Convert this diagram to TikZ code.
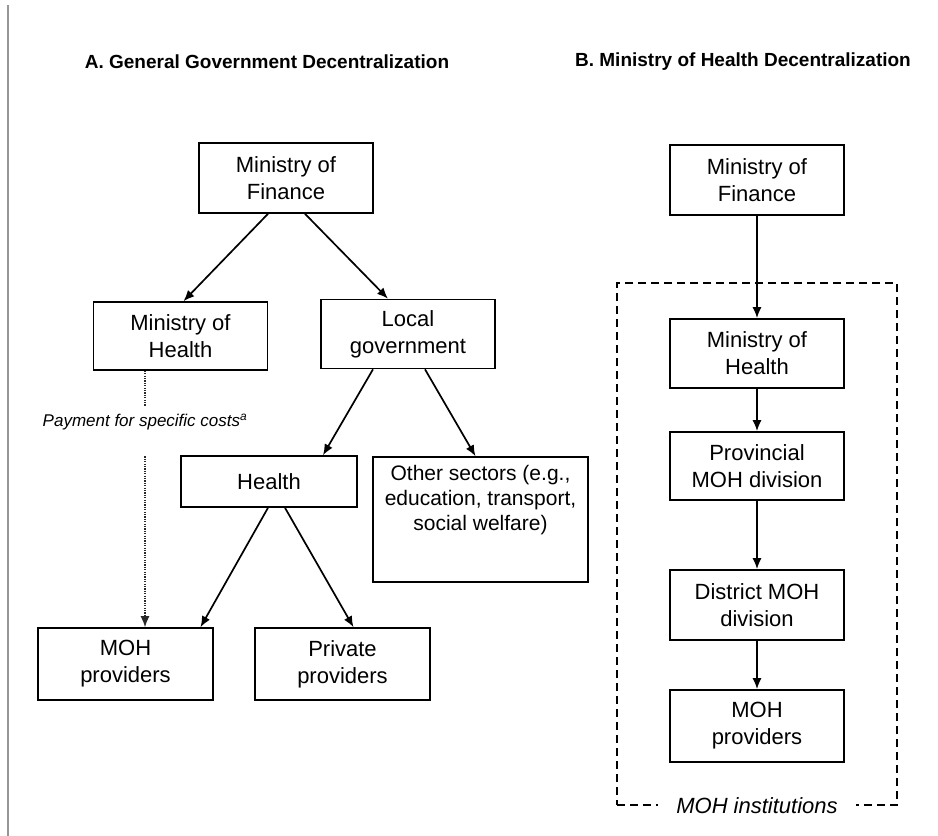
\documentclass[tikz,border=0pt]{standalone}
\usepackage{fontspec}
\setmainfont{Liberation Sans}
\definecolor{rule}{RGB}{150,150,150}
\definecolor{ink}{RGB}{40,40,40}
\usepackage{tikz}
\usetikzlibrary{arrows.meta,positioning}

\begin{document}
\begin{tikzpicture}[x=1pt,y=-1pt,
    box/.style={draw,line width=1.6pt,align=center,minimum width=174,font=\fontsize{22}{27}\selectfont},
    arr/.style={-{Latex[length=11pt,width=9pt]},line width=1.7pt},
    dotline/.style={ink,line width=1.4pt,dash pattern=on 1.2pt off 1.2pt},
    hdr/.style={font=\bfseries\fontsize{19}{22}\selectfont}]
  \useasboundingbox (0,0) rectangle (938,836);
  \draw[rule,line width=2.5pt] (8,5) -- (8,836);
  \node[hdr] (hdrA) at (267,62) {A. General Government Decentralization};
  \node[hdr] (hdrB) at (743,62) {B. Ministry of Health Decentralization};
  % general government
  \node[box,minimum height=70] (mofA) at (286,178) {Ministry of\\Finance};
  \node[box,minimum height=68] (mohA) at (180.5,336) {Ministry of\\Health};
  \node[box,minimum height=69] (locA) at (408,334) {Local\\government};
  \node[box,minimum width=176,minimum height=51] (hlthA) at (269,481.5) {Health};
  \node[box,minimum width=215,minimum height=125,
    label={[anchor=north,yshift=-6pt,align=center,font=\fontsize{21}{25}\selectfont]north:Other sectors (e.g.,\\education, transport,\\social welfare)}] (othA) at (480.5,519.5) {};
  \node[box,minimum width=175,minimum height=72] (provA) at (125.5,664) {MOH\\providers};
  \node[box,minimum width=175,minimum height=72] (privA) at (342.5,664) {Private\\providers};
  \foreach \a/\sa/\b/\sb in {mofA/-18/mohA/3,mofA/19/locA/-20,locA/-35/hlthA/54,locA/17/othA/-5,hlthA/-1/provA/75,hlthA/16/privA/11}
    \draw[arr] ([xshift=\sa]\a.south) -- ([xshift=\sb]\b.north);
  \node[font=\itshape\fontsize{17}{20}\selectfont,inner ysep=8pt] (pay) at (145,422) {Payment for specific costs\textsuperscript{a}};
  \draw[dotline] (mohA.south -| pay) -- (pay.north);
  \draw[dotline,-{Latex[length=11pt,width=9pt]},shorten <=18pt] (pay.south) -- (provA.north -| pay);
  % ministry of health
  \node[draw,line width=1.6pt,dash pattern=on 8pt off 5pt,minimum width=280,minimum height=522] (inst) at (757,544) {};
  \node[box,minimum height=70] (mofB) at (757,180) {Ministry of\\Finance};
  \node[box,minimum height=69] (mohB) at (757,353.5) {Ministry of\\Health};
  \node[box,minimum height=68] (pdivB) at (757,466) {Provincial\\MOH division};
  \node[box,minimum height=70] (ddivB) at (757,605) {District MOH\\division};
  \node[box,minimum height=72] (provB) at (757,726) {MOH\\providers};
  \foreach \a/\b in {mofB/mohB,mohB/pdivB,pdivB/ddivB,ddivB/provB}
    \draw[arr] (\a) -- (\b);
  \node[fill=white,inner xsep=18pt,font=\itshape\fontsize{22}{26}\selectfont] (instlbl) at (inst.south) {MOH institutions};
\end{tikzpicture}
\end{document}
